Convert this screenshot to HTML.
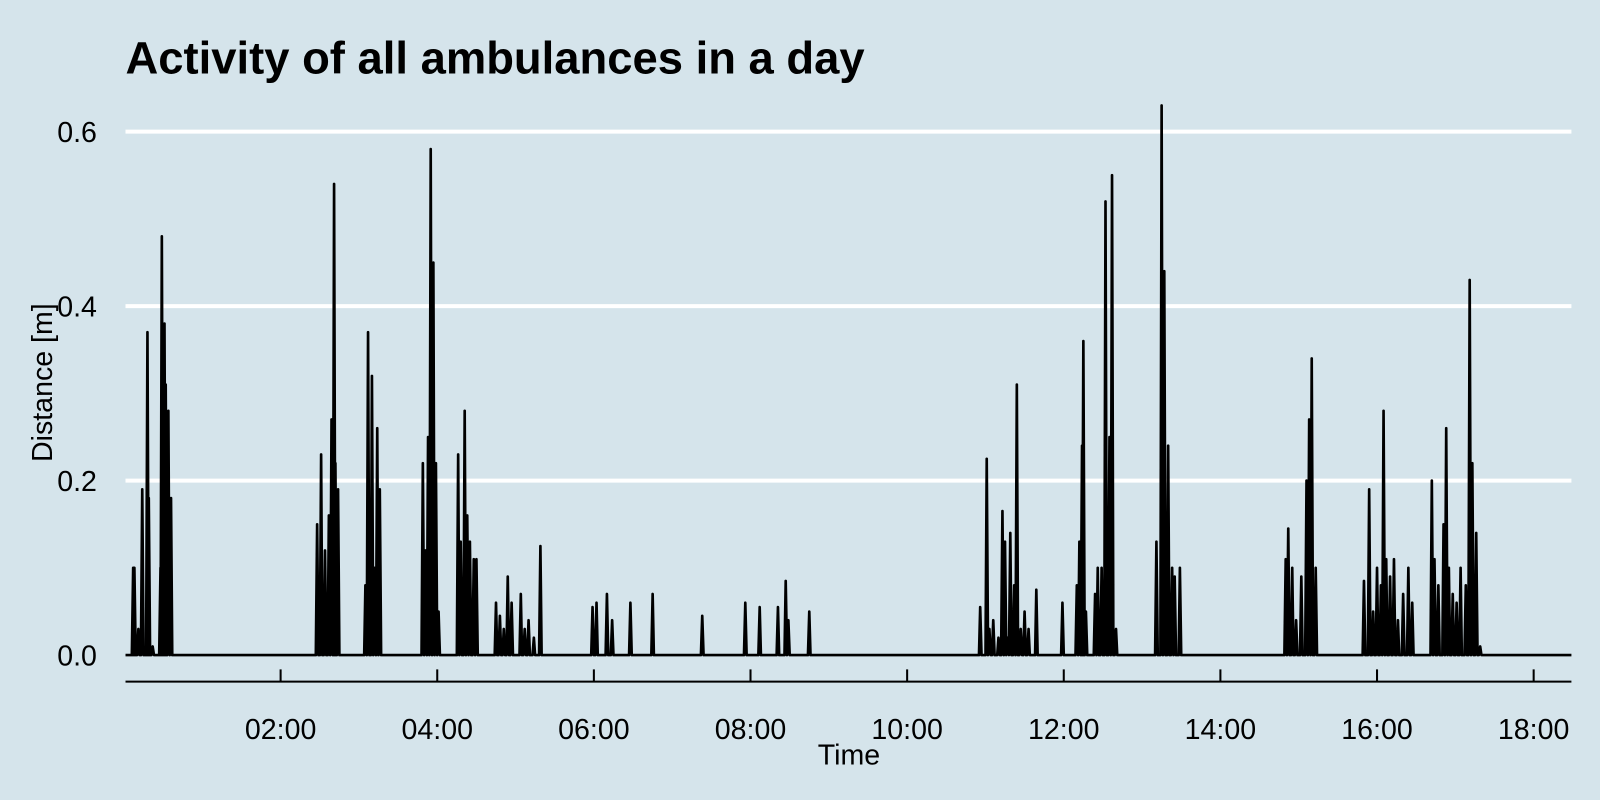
<!DOCTYPE html>
<html><head><meta charset="utf-8"><style>
body{margin:0;background:#d5e4eb;}
svg{display:block;font-family:"Liberation Sans",sans-serif;}
</style></head><body>
<svg id="chart" width="1600" height="800" viewBox="0 0 1600 800">
<rect x="0" y="0" width="1600" height="800" fill="#d5e4eb"/>
<g transform="scale(1.0204)">
<text x="123" y="72" font-size="44.5" font-weight="bold" fill="#000">Activity of all ambulances in a day</text>
<g id="grid"></g><g id="yticks"></g><g id="xaxis"></g>
<path id="series" fill="none" stroke="#000" stroke-width="2.6" stroke-linejoin="round"/>
<text x="832" y="749" font-size="28" text-anchor="middle">Time</text>
<text transform="translate(51,375) rotate(-90)" font-size="28" text-anchor="middle">Distance [m]</text>
</g>
</svg>
<script>
const yTicks=[0,0.2,0.4,0.6];
const yTickLabels=["0.0","0.2","0.4","0.6"];
const xTickHours=[2,4,6,8,10,12,14,16,18];
const xTickLabels=["02:00","04:00","06:00","08:00","10:00","12:00","14:00","16:00","18:00"];
// spike times in minutes after midnight, and distances
const spikeMinutes=[7,8,11,14,18,19,22,28,29,31,32,34,36,
148,151,154,157,159,161,162,164,
185,187,190,192,194,196,
229,231,233,235,237,239,241,
256,258,261,263,265,268,270,
285,288,291,294,297,304,307,310,314,319,
359,362,370,374,388,405,443,476,487,501,507,509,525,
656,661,663,666,670,673,675,677,679,682,684,687,690,693,699,
719,730,732,734,735,737,744,746,749,752,755,757,760,
791,795,797,800,803,805,809,
890,892,895,898,902,906,908,910,913,
950,954,957,960,963,965,967,970,973,976,980,984,987,
1002,1004,1007,1011,1013,1015,1018,1021,1024,1028,1031,1033,1036,1039];
const spikeValues=[0.10,0.10,0.03,0.19,0.37,0.18,0.01,0.10,0.48,0.38,0.31,0.28,0.18,
0.15,0.23,0.12,0.16,0.27,0.54,0.22,0.19,
0.08,0.37,0.32,0.10,0.26,0.19,
0.22,0.12,0.25,0.58,0.45,0.22,0.05,
0.23,0.13,0.28,0.16,0.13,0.11,0.11,
0.06,0.045,0.03,0.09,0.06,0.07,0.03,0.04,0.02,0.125,
0.055,0.06,0.07,0.04,0.06,0.07,0.045,0.06,0.055,0.055,0.085,0.04,0.05,
0.055,0.225,0.03,0.04,0.02,0.165,0.13,0.02,0.14,0.08,0.31,0.03,0.05,0.03,0.075,
0.06,0.08,0.13,0.24,0.36,0.05,0.07,0.10,0.10,0.52,0.25,0.55,0.03,
0.13,0.63,0.44,0.24,0.10,0.09,0.10,
0.11,0.145,0.10,0.04,0.09,0.20,0.27,0.34,0.10,
0.085,0.19,0.05,0.10,0.08,0.28,0.11,0.09,0.11,0.04,0.07,0.10,0.06,
0.20,0.11,0.08,0.15,0.26,0.10,0.07,0.06,0.10,0.08,0.43,0.22,0.14,0.01];
const X0=121.5,PXH=76.75,Y0=642,PXV=855,XL=123,XR=1540;
const xs=m=>X0+m/60*PXH, ys=v=>Y0-v*PXV;
const NS="http://www.w3.org/2000/svg";
const grid=document.getElementById('grid'),yt=document.getElementById('yticks'),xa=document.getElementById('xaxis');
yTicks.forEach((v,i)=>{
 if(v>0){const l=document.createElementNS(NS,'line');
 
 
 l.setAttribute('x1',XL);l.setAttribute('x2',XR);l.setAttribute('y1',ys(v));l.setAttribute('y2',ys(v));
 l.setAttribute('stroke','#fff');l.setAttribute('stroke-width','4');grid.appendChild(l);}
 const t=document.createElementNS(NS,'text');
 
 
 t.setAttribute('x',95);t.setAttribute('y',ys(v)+10);t.setAttribute('text-anchor','end');t.setAttribute('font-size','28');
 t.textContent=yTickLabels[i];yt.appendChild(t);
});
const ax=document.createElementNS(NS,'line');


ax.setAttribute('x1',XL);ax.setAttribute('x2',XR);ax.setAttribute('y1',668);ax.setAttribute('y2',668);ax.setAttribute('stroke','#000');ax.setAttribute('stroke-width','2');xa.appendChild(ax);
xTickHours.forEach((h,i)=>{
 const x=xs(h*60);
 const l=document.createElementNS(NS,'line');
 
 
 l.setAttribute('x1',x);l.setAttribute('x2',x);l.setAttribute('y1',656);l.setAttribute('y2',668);l.setAttribute('stroke','#000');l.setAttribute('stroke-width','2');xa.appendChild(l);
 const t=document.createElementNS(NS,'text');
 
 
 t.setAttribute('x',x);t.setAttribute('y',724);t.setAttribute('text-anchor','middle');t.setAttribute('font-size','28');
 t.textContent=xTickLabels[i];xa.appendChild(t);
});
let d='M'+XL+','+Y0;
spikeMinutes.forEach((m,i)=>{
 d+=' L'+xs(m-1).toFixed(1)+','+Y0+' L'+xs(m).toFixed(1)+','+ys(spikeValues[i]).toFixed(1)+' L'+xs(m+1).toFixed(1)+','+Y0;
});
d+=' L'+XR+','+Y0;
document.getElementById('series').setAttribute('d',d);
</script>
</body></html>
